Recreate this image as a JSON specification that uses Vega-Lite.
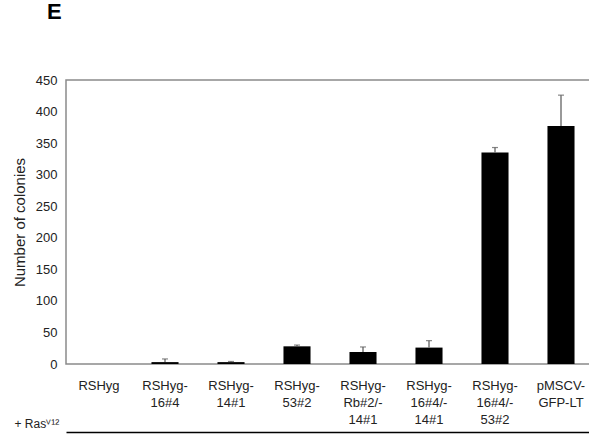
{
  "$schema": "https://vega.github.io/schema/vega-lite/v6.json",
  "width": 528,
  "height": 284,
  "autosize": {"type": "none"},
  "padding": {"left": 66, "top": 80, "right": 0, "bottom": 70},
  "background": "white",
  "title": {"text": "E", "anchor": "start", "frame": "group", "fontSize": 22, "font": "Liberation Sans", "fontWeight": "bold", "color": "black", "dx": -19, "offset": 50},
  "config": {"view": {"stroke": "#8a8a8a", "strokeWidth": 1.5}, "font": "Liberation Sans",
    "axisY": {"values": [0, 50, 100, 150, 200, 250, 300, 350, 400, 450], "grid": false, "ticks": false, "domain": false, "labelFontSize": 13, "labelColor": "#222", "labelPadding": 9, "titleFontSize": 15, "titleFontWeight": "normal", "titleColor": "#222", "titlePadding": 8}},
  "data": {"values": [
    {"label": "RSHyg", "value": 0, "upper": 0},
    {"label": "RSHyg-|16#4", "value": 3, "upper": 8},
    {"label": "RSHyg-|14#1", "value": 3, "upper": 4},
    {"label": "RSHyg-|53#2", "value": 28, "upper": 30},
    {"label": "RSHyg-|Rb#2/-|14#1", "value": 19, "upper": 27},
    {"label": "RSHyg-|16#4/-|14#1", "value": 26, "upper": 37},
    {"label": "RSHyg-|16#4/-|53#2", "value": 335, "upper": 343},
    {"label": "pMSCV-|GFP-LT", "value": 377, "upper": 426}
  ]},
  "resolve": {"axis": {"x": "independent"}},
  "layer": [
    {
      "mark": {"type": "bar", "color": "black"},
      "encoding": {
        "x": {"field": "label", "type": "nominal", "sort": null,
          "scale": {"paddingInner": 0.59, "paddingOuter": 0.295},
          "axis": {"orient": "bottom", "labelExpr": "split(datum.label, '|')", "labelAngle": 0, "labelBaseline": "top", "labelPadding": 15, "labelFontSize": 13, "labelColor": "#222", "labelLineHeight": 17, "ticks": false, "domain": false,
            "title": "+ Rasⱽ¹²", "titleX": -52, "titleY": 59, "titleAlign": "left", "titleBaseline": "middle", "titleFontSize": 12, "titleFontWeight": "normal", "titleColor": "#222"}},
        "y": {"field": "value", "type": "quantitative", "scale": {"domain": [0, 450]}, "title": "Number of colonies"}
      }
    },
    {
      "transform": [{"filter": "datum.upper > datum.value"}],
      "mark": {"type": "rule", "color": "#555", "strokeWidth": 1.2},
      "encoding": {
        "x": {"field": "label", "type": "nominal", "sort": null, "axis": {"orient": "bottom", "labels": false, "ticks": false, "domain": false, "title": null}},
        "y": {"field": "value", "type": "quantitative", "title": "Number of colonies"},
        "y2": {"field": "upper"}
      }
    },
    {
      "transform": [{"filter": "datum.upper > datum.value"}],
      "mark": {"type": "tick", "color": "#555", "size": 6, "thickness": 1.2},
      "encoding": {
        "x": {"field": "label", "type": "nominal", "sort": null,
          "axis": {"orient": "bottom", "offset": 68, "labels": false, "ticks": false, "title": null, "domainColor": "black", "domainWidth": 1.5}},
        "y": {"field": "upper", "type": "quantitative", "title": "Number of colonies"}
      }
    }
  ]
}
